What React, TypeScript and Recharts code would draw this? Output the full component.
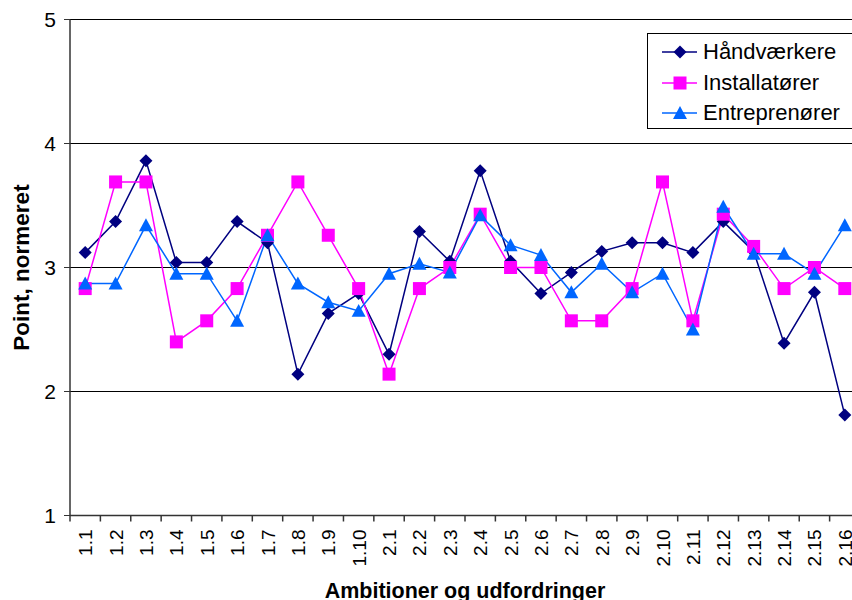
import React from 'react';
import {
  LineChart,
  Line,
  XAxis,
  YAxis,
  CartesianGrid,
} from 'recharts';

const FONT = '"Liberation Sans", Arial, sans-serif';

// categories on the x axis
const CATEGORIES = [
  '1.1', '1.2', '1.3', '1.4', '1.5', '1.6', '1.7', '1.8', '1.9', '1.10',
  '2.1', '2.2', '2.3', '2.4', '2.5', '2.6', '2.7', '2.8', '2.9', '2.10',
  '2.11', '2.12', '2.13', '2.14', '2.15', '2.16',
];

const HAANDVAERKERE = [
  3.12, 3.37, 3.86, 3.04, 3.04, 3.37, 3.2, 2.14, 2.63, 2.79,
  2.3, 3.29, 3.05, 3.78, 3.05, 2.79, 2.96, 3.13, 3.2, 3.2,
  3.12, 3.37, 3.13, 2.39, 2.8, 1.81,
];

const INSTALLATOERER = [
  2.83, 3.69, 3.69, 2.4, 2.57, 2.83, 3.26, 3.69, 3.26, 2.83,
  2.14, 2.83, 3.0, 3.43, 3.0, 3.0, 2.57, 2.57, 2.83, 3.69,
  2.57, 3.43, 3.17, 2.83, 3.0, 2.83,
];

const ENTREPRENOERER = [
  2.87, 2.87, 3.34, 2.95, 2.95, 2.57, 3.26, 2.87, 2.72, 2.65,
  2.95, 3.03, 2.96, 3.42, 3.18, 3.1, 2.8, 3.03, 2.8, 2.95,
  2.5, 3.49, 3.11, 3.11, 2.95, 3.34,
];

const Y_TICKS = [1, 2, 3, 4, 5];

const SERIES = [
  { key: 'h', name: 'Håndværkere', color: '#000080', shape: 'diamond' },
  { key: 'i', name: 'Installatører', color: '#FF00FF', shape: 'square' },
  { key: 'e', name: 'Entreprenører', color: '#0066FF', shape: 'triangle' },
];

// x positions sit in the middle of each category band
const data = CATEGORIES.map((c, i) => ({
  pos: i + 0.5,
  cat: c,
  h: HAANDVAERKERE[i],
  i: INSTALLATOERER[i],
  e: ENTREPRENOERER[i],
}));

// whole numbers = band edges (tick marks), halves = labels
const xTicks: number[] = [];
for (let i = 0; i <= CATEGORIES.length; i++) {
  xTicks.push(i);
  if (i < CATEGORIES.length) xTicks.push(i + 0.5);
}

const Marker = ({ cx, cy, shape, color }: any) => {
  if (cx == null || cy == null) return null;
  if (shape === 'diamond') {
    const r = 6.5;
    return (
      <polygon
        points={`${cx},${cy - r} ${cx + r},${cy} ${cx},${cy + r} ${cx - r},${cy}`}
        fill={color}
      />
    );
  }
  if (shape === 'square') {
    const r = 6.5;
    return <rect x={cx - r} y={cy - r} width={r * 2} height={r * 2} fill={color} />;
  }
  const r = 7;
  return (
    <polygon
      points={`${cx},${cy - r} ${cx + r},${cy + r * 0.85} ${cx - r},${cy + r * 0.85}`}
      fill={color}
    />
  );
};

const XTick = (props: any) => {
  const { x, y, payload } = props;
  const v = payload.value;
  if (Number.isInteger(v)) {
    return <line x1={x} x2={x} y1={y - 8} y2={y - 2} stroke="#333" strokeWidth={1.5} />;
  }
  const label = CATEGORIES[Math.floor(v)];
  return (
    <text
      transform={`translate(${x + 7},${y + 6}) rotate(-90)`}
      textAnchor="end"
      fontSize={19}
      fontFamily={FONT}
      fill="#000"
    >
      {label}
    </text>
  );
};

const ChartLegend = () => (
  <div
    style={{
      position: 'absolute',
      left: 647,
      top: 33,
      border: '1px solid #000',
      background: '#fff',
      width: 215,
      height: 96,
      paddingTop: 3,
      boxSizing: 'border-box',
      fontFamily: FONT,
      fontSize: 22,
    }}
  >
    {SERIES.map((s) => (
      <div key={s.key} style={{ display: 'flex', alignItems: 'center', height: 30.5 }}>
        <svg width={55} height={20} style={{ display: 'block', flex: 'none' }}>
          <line x1={14} x2={49} y1={10} y2={10} stroke={s.color} strokeWidth={1.5} />
          <Marker cx={32} cy={10} shape={s.shape} color={s.color} />
        </svg>
        <span style={{ color: '#000', whiteSpace: 'nowrap' }}>{s.name}</span>
      </div>
    ))}
  </div>
);

export default function App() {
  return (
    <div
      style={{
        position: 'absolute',
        left: 0,
        top: 0,
        width: 852,
        height: 600,
        overflow: 'hidden',
        background: '#fff',
      }}
    >
      <LineChart
        width={870}
        height={600}
        data={data}
        margin={{ top: 19.5, right: 10, left: 0, bottom: 0 }}
      >
        <CartesianGrid horizontal vertical={false} stroke="#000" strokeWidth={1} />
        <XAxis
          dataKey="pos"
          type="number"
          domain={[0, CATEGORIES.length]}
          ticks={xTicks}
          interval={0}
          height={84.5}
          tickLine={false}
          tick={<XTick />}
          axisLine={{ stroke: '#333', strokeWidth: 1.5 }}
          label={{
            value: 'Ambitioner og udfordringer',
            position: 'insideBottom',
            offset: 2,
            style: { fontFamily: FONT, fontSize: 21.5, fontWeight: 'bold', fill: '#000' },
          }}
        />
        <YAxis
          type="number"
          domain={[1, 5]}
          ticks={Y_TICKS}
          width={70}
          tickSize={6}
          tickMargin={8}
          tickLine={{ stroke: '#333' }}
          axisLine={{ stroke: '#333', strokeWidth: 1.5 }}
          tick={{ fontSize: 21, fontFamily: FONT, fill: '#000' }}
          label={{
            value: 'Point, normeret',
            angle: -90,
            position: 'insideLeft',
            offset: 21,
            style: { fontFamily: FONT, fontSize: 22.5, fontWeight: 'bold', fill: '#000', textAnchor: 'middle' },
          }}
        />
        {SERIES.map((s) => (
          <Line
            key={s.key}
            type="linear"
            dataKey={s.key}
            name={s.name}
            stroke={s.color}
            strokeWidth={1.5}
            isAnimationActive={false}
            dot={(p: any) => <Marker key={`${s.key}-${p.index}`} cx={p.cx} cy={p.cy} shape={s.shape} color={s.color} />}
            activeDot={false}
          />
        ))}
      </LineChart>
      <ChartLegend />
    </div>
  );
}
